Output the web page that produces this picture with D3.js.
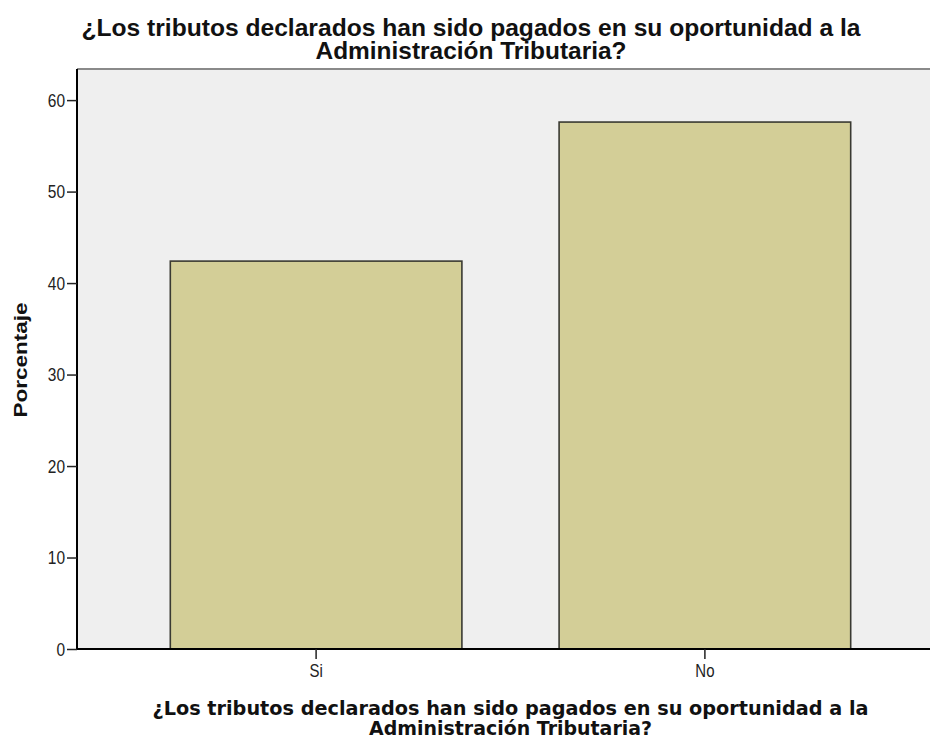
<!DOCTYPE html>
<html>
<head>
<meta charset="utf-8">
<script src="https://cdn.jsdelivr.net/npm/d3@7"></script>
<style>
    body { margin: 0; background: #fff; overflow: hidden; }
    svg { display: block; }
</style>
</head>
<body>
<div id="chart"></div>
<script>
(function () {

    const categories = ["Si", "No"];
    const percentages = [42.4, 57.6];
    const yTicks = [0, 10, 20, 30, 40, 50, 60];
    const titleLines = ["¿Los tributos declarados han sido pagados en su oportunidad a la", "Administración Tributaria?"];
    const xTitleLines = ["¿Los tributos declarados han sido pagados en su oportunidad a la", "Administración Tributaria?"];
    const yTitle = "Porcentaje";

    const width = 930, height = 737;
    const plot = { left: 77, right: 944, top: 69, bottom: 649 };
    const sy = 1.2; // the picture is stretched vertically

    const svg = d3.select("#chart")
        .append("svg")
        .attr("width", width)
        .attr("height", height);

    const xScale = d3.scaleBand()
        .domain(categories)
        .range([plot.left, plot.right])
        .paddingInner(0.25)
        .paddingOuter(0.24);

    const yScale = d3.scaleLinear()
        .domain([0, 63.4])
        .range([plot.bottom, plot.top]);

    // plot background
    svg.append("rect")
        .attr("x", plot.left)
        .attr("y", plot.top)
        .attr("width", plot.right - plot.left)
        .attr("height", plot.bottom - plot.top)
        .attr("fill", "#efefef");

    svg.append("line")
        .attr("x1", plot.left).attr("x2", plot.right)
        .attr("y1", plot.top).attr("y2", plot.top)
        .attr("stroke", "#8a8a8a")
        .attr("stroke-width", 2);

    // bars
    svg.append("g")
        .selectAll("rect")
        .data(categories)
        .enter()
        .append("rect")
        .attr("x", d => xScale(d))
        .attr("y", (d, i) => yScale(percentages[i]))
        .attr("width", xScale.bandwidth())
        .attr("height", (d, i) => yScale(0) - yScale(percentages[i]))
        .attr("fill", "#d3ce97")
        .attr("stroke", "#3a3a32")
        .attr("stroke-width", 1.6);

    // y axis
    const yAxis = svg.append("g")
        .attr("transform", `translate(${plot.left},0)`)
        .call(d3.axisLeft(yScale).tickValues(yTicks).tickSize(10).tickPadding(2).tickFormat(d3.format("d")));
    yAxis.select(".domain").attr("stroke", "#000").attr("stroke-width", 2).attr("d", `M0,${plot.top}V${plot.bottom}`);
    yAxis.selectAll(".tick line").attr("stroke", "#222").attr("stroke-width", 1.5);
    yAxis.selectAll(".tick text")
        .attr("font-family", "'Liberation Sans', Arial, sans-serif")
        .attr("font-size", 15.5)
        .attr("fill", "#222")
        .attr("dy", null)
        .attr("transform", `translate(-12,0) scale(1,${sy}) translate(12,0)`)
        .attr("y", 5);

    // x axis
    const xAxis = svg.append("g")
        .attr("transform", `translate(0,${plot.bottom})`)
        .call(d3.axisBottom(xScale).tickSize(10).tickPadding(4));
    xAxis.select(".domain").attr("stroke", "#000").attr("stroke-width", 2).attr("d", `M${plot.left},0H${plot.right}`);
    xAxis.selectAll(".tick line").attr("stroke", "#222").attr("stroke-width", 1.5);
    xAxis.selectAll(".tick text")
        .attr("font-family", "'Liberation Sans', Arial, sans-serif")
        .attr("font-size", 15)
        .attr("fill", "#222")
        .attr("dy", null)
        .attr("y", 0)
        .attr("transform", `translate(0,28) scale(1,${sy})`);

    // main title
    const titleX = 471;
    const titleBase = [36, 59];
    const titleWidths = [779, 311];
    svg.append("g")
        .selectAll("text")
        .data(titleLines)
        .enter()
        .append("text")
        .attr("transform", (d, i) => `translate(${titleX},${titleBase[i]}) scale(1,${sy})`)
        .attr("text-anchor", "middle")
        .attr("font-family", "'Liberation Sans', Arial, sans-serif")
        .attr("font-weight", "bold")
        .attr("font-size", 20)
        .attr("fill", "#111")
        .attr("textLength", (d, i) => titleWidths[i])
        .attr("lengthAdjust", "spacingAndGlyphs")
        .text(d => d);

    // x axis title
    const xTitleX = (plot.left + plot.right) / 2;
    const xTitleBase = [715, 735];
    const xTitleWidths = [716, 283];
    svg.append("g")
        .selectAll("text")
        .data(xTitleLines)
        .enter()
        .append("text")
        .attr("transform", (d, i) => `translate(${xTitleX},${xTitleBase[i]}) scale(1,${sy})`)
        .attr("text-anchor", "middle")
        .attr("font-family", "'DejaVu Sans', Verdana, sans-serif")
        .attr("font-weight", "bold")
        .attr("font-size", 16.5)
        .attr("fill", "#111")
        .attr("textLength", (d, i) => xTitleWidths[i])
        .attr("lengthAdjust", "spacingAndGlyphs")
        .text(d => d);

    // y axis title
    svg.append("text")
        .attr("transform", `translate(27,360) scale(1,${sy}) rotate(-90)`)
        .attr("text-anchor", "middle")
        .attr("font-family", "'Liberation Sans', Arial, sans-serif")
        .attr("font-weight", "bold")
        .attr("font-size", 17.5)
        .attr("fill", "#111")
        .attr("textLength", 96)
        .attr("lengthAdjust", "spacingAndGlyphs")
        .text(yTitle);

})()
</script>
</body>
</html>
